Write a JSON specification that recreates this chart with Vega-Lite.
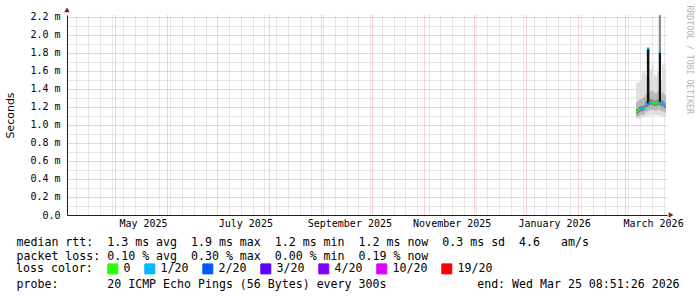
{
  "$schema": "https://vega.github.io/schema/vega-lite/v6.json",
  "width": 600,
  "height": 200,
  "autosize": {"type": "none"},
  "padding": {"left": 67, "top": 15, "right": 30, "bottom": 82},
  "background": "white",
  "config": {"view": {"stroke": null}},
  "resolve": {"axis": {"y": "independent"}},
  "datasets": {
    "smoke": [
      {"t": "2026-03-07T14:00:00Z", "t2": "2026-03-08T00:00:00Z", "lo1": 1.07, "lo2": 1.09, "lo3": 1.125, "med": 1.15, "hi3": 1.18, "hi2": 1.25, "hi1": 1.47, "loss": "0"},
      {"t": "2026-03-08T00:00:00Z", "t2": "2026-03-09T00:00:00Z", "lo1": 1.07, "lo2": 1.09, "lo3": 1.125, "med": 1.15, "hi3": 1.18, "hi2": 1.26, "hi1": 1.47, "loss": "0"},
      {"t": "2026-03-09T00:00:00Z", "t2": "2026-03-10T00:00:00Z", "lo1": 1.07, "lo2": 1.10, "lo3": 1.14, "med": 1.17, "hi3": 1.20, "hi2": 1.28, "hi1": 1.48, "loss": "0"},
      {"t": "2026-03-10T00:00:00Z", "t2": "2026-03-11T00:00:00Z", "lo1": 1.08, "lo2": 1.11, "lo3": 1.15, "med": 1.18, "hi3": 1.21, "hi2": 1.29, "hi1": 1.50, "loss": "1/20"},
      {"t": "2026-03-11T00:00:00Z", "t2": "2026-03-12T00:00:00Z", "lo1": 1.08, "lo2": 1.11, "lo3": 1.155, "med": 1.18, "hi3": 1.21, "hi2": 1.30, "hi1": 1.58, "loss": "1/20"},
      {"t": "2026-03-12T00:00:00Z", "t2": "2026-03-13T00:00:00Z", "lo1": 1.09, "lo2": 1.12, "lo3": 1.165, "med": 1.19, "hi3": 1.22, "hi2": 1.31, "hi1": 1.59, "loss": "1/20"},
      {"t": "2026-03-13T00:00:00Z", "t2": "2026-03-14T00:00:00Z", "lo1": 1.10, "lo2": 1.15, "lo3": 1.20, "med": 1.23, "hi3": 1.26, "hi2": 1.34, "hi1": 1.55, "loss": "1/20"},
      {"t": "2026-03-14T00:00:00Z", "t2": "2026-03-15T00:00:00Z", "lo1": 1.10, "lo2": 1.15, "lo3": 1.20, "med": 1.23, "hi3": 1.27, "hi2": 1.36, "hi1": 1.58, "loss": "1/20"},
      {"t": "2026-03-15T00:00:00Z", "t2": "2026-03-16T00:00:00Z", "lo1": 1.10, "lo2": 1.16, "lo3": 1.22, "med": 1.25, "hi3": 1.28, "hi2": 1.36, "hi1": 1.52, "loss": "1/20"},
      {"t": "2026-03-16T00:00:00Z", "t2": "2026-03-17T00:00:00Z", "lo1": 1.11, "lo2": 1.17, "lo3": 1.225, "med": 1.255, "hi3": 1.29, "hi2": 1.38, "hi1": 1.62, "loss": "1/20"},
      {"t": "2026-03-17T00:00:00Z", "t2": "2026-03-18T00:00:00Z", "lo1": 1.11, "lo2": 1.17, "lo3": 1.22, "med": 1.25, "hi3": 1.28, "hi2": 1.38, "hi1": 1.675, "loss": "0"},
      {"t": "2026-03-18T00:00:00Z", "t2": "2026-03-19T00:00:00Z", "lo1": 1.11, "lo2": 1.16, "lo3": 1.21, "med": 1.24, "hi3": 1.27, "hi2": 1.36, "hi1": 1.56, "loss": "0"},
      {"t": "2026-03-19T00:00:00Z", "t2": "2026-03-20T00:00:00Z", "lo1": 1.11, "lo2": 1.16, "lo3": 1.21, "med": 1.24, "hi3": 1.27, "hi2": 1.35, "hi1": 1.55, "loss": "0"},
      {"t": "2026-03-20T00:00:00Z", "t2": "2026-03-21T00:00:00Z", "lo1": 1.11, "lo2": 1.17, "lo3": 1.22, "med": 1.25, "hi3": 1.28, "hi2": 1.37, "hi1": 1.60, "loss": "0"},
      {"t": "2026-03-21T00:00:00Z", "t2": "2026-03-22T00:00:00Z", "lo1": 1.11, "lo2": 1.17, "lo3": 1.22, "med": 1.25, "hi3": 1.28, "hi2": 1.37, "hi1": 1.60, "loss": "1/20"},
      {"t": "2026-03-22T00:00:00Z", "t2": "2026-03-23T00:00:00Z", "lo1": 1.10, "lo2": 1.16, "lo3": 1.21, "med": 1.24, "hi3": 1.27, "hi2": 1.35, "hi1": 1.50, "loss": "1/20"},
      {"t": "2026-03-23T00:00:00Z", "t2": "2026-03-24T00:00:00Z", "lo1": 1.10, "lo2": 1.15, "lo3": 1.205, "med": 1.235, "hi3": 1.27, "hi2": 1.36, "hi1": 1.675, "loss": "1/20"},
      {"t": "2026-03-24T00:00:00Z", "t2": "2026-03-25T00:00:00Z", "lo1": 1.09, "lo2": 1.14, "lo3": 1.19, "med": 1.22, "hi3": 1.25, "hi2": 1.34, "hi1": 1.675, "loss": "1/20"},
      {"t": "2026-03-25T00:00:00Z", "t2": "2026-03-25T09:00:00Z", "lo1": 1.09, "lo2": 1.14, "lo3": 1.185, "med": 1.21, "hi3": 1.24, "hi2": 1.33, "hi1": 1.62, "loss": "1/20"}
    ],
    "spikes": [
      {"t": "2026-03-14T00:00:00Z", "t2": "2026-03-15T12:00:00Z", "lo": 1.23, "hi": 1.85, "part": "core"},
      {"t": "2026-03-21T02:00:00Z", "t2": "2026-03-22T10:00:00Z", "lo": 1.25, "hi": 1.81, "part": "core"},
      {"t": "2026-03-21T02:00:00Z", "t2": "2026-03-22T10:00:00Z", "lo": 1.81, "hi": 2.22, "part": "tail"}
    ],
    "caps": [
      {"t": "2026-03-14T00:00:00Z", "t2": "2026-03-15T12:00:00Z", "cap": 1.85, "loss": "1/20"},
      {"t": "2026-03-21T02:00:00Z", "t2": "2026-03-22T10:00:00Z", "cap": 1.81, "loss": "1/20"}
    ],
    "arrows": [
      {"t": "2025-04-02T09:36:00Z", "v": 2.28, "dir": "up"},
      {"t": "2026-03-28T10:00:00Z", "v": 0, "dir": "right"}
    ]
  },
  "encoding": {
    "x": {
      "field": "t",
      "type": "temporal",
      "scale": {"type": "utc", "domain": [{"year": 2025, "month": 4, "date": 2, "hours": 9, "minutes": 36, "utc": true}, {"year": 2026, "month": 3, "date": 26, "utc": true}]},
      "axis": {
        "values": [1744070400000, 1744675200000, 1745280000000, 1745884800000, 1746489600000, 1747094400000, 1747699200000, 1748304000000, 1748908800000, 1749513600000, 1750118400000, 1750723200000, 1751328000000, 1751932800000, 1752537600000, 1753142400000, 1753747200000, 1754352000000, 1754956800000, 1755561600000, 1756166400000, 1756771200000, 1757376000000, 1757980800000, 1758585600000, 1759190400000, 1759795200000, 1760400000000, 1761004800000, 1761609600000, 1762214400000, 1762819200000, 1763424000000, 1764028800000, 1764633600000, 1765238400000, 1765843200000, 1766448000000, 1767052800000, 1767657600000, 1768262400000, 1768867200000, 1769472000000, 1770076800000, 1770681600000, 1771286400000, 1771891200000, 1772496000000, 1773100800000, 1773705600000, 1774310400000, 1746057600000, 1748736000000, 1754006400000, 1756684800000, 1759276800000, 1761955200000, 1764547200000, 1767225600000, 1769904000000, 1772323200000],
        "gridColor": {"condition": {"test": "utcdate(datum.value) == 1", "value": "#f79f9f"}, "value": "#cfcfcf"},
        "gridDash": [1, 1],
        "gridWidth": 1,
        "ticks": false,
        "domainColor": "#1f1f1f",
        "labelExpr": "utcdate(datum.value) == 1 && utcmonth(datum.value) % 2 == 0 ? utcFormat(datum.value, '%B %Y') : ''",
        "labelOffset": 28,
        "labelPadding": 3,
        "labelFont": "DejaVu Sans Mono",
        "labelFontSize": 10,
        "labelColor": "black",
        "labelOverlap": false,
        "labelFlush": false,
        "labelBound": false,
        "title": [
          "median\u00a0rtt:\u00a0\u00a01.3\u00a0ms\u00a0avg\u00a0\u00a01.9\u00a0ms\u00a0max\u00a0\u00a01.2\u00a0ms\u00a0min\u00a0\u00a01.2\u00a0ms\u00a0now\u00a0\u00a00.3\u00a0ms\u00a0sd\u00a0\u00a04.6\u00a0\u00a0\u00a0am/s",
          "packet\u00a0loss:\u00a00.10\u00a0%\u00a0avg\u00a0\u00a00.30\u00a0%\u00a0max\u00a0\u00a00.00\u00a0%\u00a0min\u00a0\u00a00.19\u00a0%\u00a0now",
          "\u2800",
          "probe:\u00a0\u00a0\u00a0\u00a0\u00a0\u00a0\u00a020\u00a0ICMP\u00a0Echo\u00a0Pings\u00a0(56\u00a0Bytes)\u00a0every\u00a0300s\u00a0\u00a0\u00a0\u00a0\u00a0\u00a0\u00a0\u00a0\u00a0\u00a0\u00a0\u00a0\u00a0end:\u00a0Wed\u00a0Mar\u00a025\u00a008:51:26\u00a02026"
        ],
        "titleAnchor": "start",
        "titleAlign": "left",
        "titleX": -51,
        "titleY": 30.5,
        "titleBaseline": "alphabetic",
        "titleLineHeight": 14,
        "titleFont": "DejaVu Sans Mono",
        "titleFontSize": 11.6,
        "titleFontWeight": "normal",
        "titleColor": "black"
      }
    }
  },
  "layer": [
    {
      "data": {"name": "smoke"},
      "mark": {"type": "rect", "color": "#dcdcdc"},
      "encoding": {
        "x2": {"field": "t2"},
        "y": {
          "field": "lo1",
          "type": "quantitative",
          "scale": {"domain": [0, 2.22222], "nice": false, "zero": false},
          "axis": {
            "title": "Seconds",
            "values": [0, 0.2, 0.4, 0.6, 0.8, 1.0, 1.2, 1.4, 1.6, 1.8, 2.0, 2.2],
            "labelExpr": "datum.value == 0 ? '0.0\u00a0\u00a0' : format(datum.value, '.1f') + '\u00a0m'",
            "grid": true,
            "gridColor": "#f79f9f",
            "gridDash": [1, 1],
            "gridWidth": 1,
            "ticks": false,
            "domainColor": "#1f1f1f",
            "labelFont": "DejaVu Sans Mono",
            "labelFontSize": 10,
            "labelColor": "black",
            "labelPadding": 7,
            "labelOverlap": false,
            "labelFlush": false,
            "titleFont": "DejaVu Sans",
            "titleFontSize": 11,
            "titleFontWeight": "normal",
            "titleColor": "black",
            "titleX": -57,
            "titleY": 100,
            "titleAngle": -90,
            "titleAlign": "center",
            "titleBaseline": "middle"
          }
        },
        "y2": {"field": "hi1"}
      }
    },
    {
      "data": {"name": "smoke"},
      "mark": {"type": "rect", "color": "#b4b4b4"},
      "encoding": {
        "x2": {"field": "t2"},
        "y": {
          "field": "lo2",
          "type": "quantitative",
          "scale": {"domain": [0, 2.22222], "nice": false, "zero": false},
          "axis": {
            "orient": "left",
            "title": null,
            "values": [0.1, 0.3, 0.5, 0.7, 0.9, 1.1, 1.3, 1.5, 1.7, 1.9, 2.1],
            "labels": false,
            "ticks": false,
            "domain": false,
            "grid": true,
            "gridColor": "#cfcfcf",
            "gridDash": [1, 1],
            "gridWidth": 1
          }
        },
        "y2": {"field": "hi2"}
      }
    },
    {
      "data": {"name": "smoke"},
      "mark": {"type": "rect", "color": "#7c7c7c"},
      "encoding": {
        "x2": {"field": "t2"},
        "y": {"field": "lo3", "type": "quantitative", "scale": {"domain": [0, 2.22222], "nice": false, "zero": false}, "axis": null},
        "y2": {"field": "hi3"}
      }
    },
    {
      "data": {"name": "spikes"},
      "mark": {"type": "rect"},
      "encoding": {
        "x2": {"field": "t2"},
        "y": {"field": "lo", "type": "quantitative", "scale": {"domain": [0, 2.22222], "nice": false, "zero": false}, "axis": null},
        "y2": {"field": "hi"},
        "fill": {"field": "part", "type": "nominal", "scale": {"domain": ["core", "tail"], "range": ["#111111", "#8a8a8a"]}, "legend": null}
      }
    },
    {
      "data": {"name": "smoke"},
      "mark": {"type": "rule", "strokeWidth": 2},
      "encoding": {
        "x2": {"field": "t2"},
        "y": {"field": "med", "type": "quantitative", "scale": {"domain": [0, 2.22222], "nice": false, "zero": false}, "axis": null},
        "color": {
          "field": "loss",
          "type": "nominal",
          "scale": {"domain": ["0", "1/20", "2/20", "3/20", "4/20", "10/20", "19/20"], "range": ["#26ff00", "#00b8ff", "#0059ff", "#5e00ff", "#7e00ff", "#dd00ff", "#ff0000"]},
          "legend": {
            "title": "loss color:",
            "orient": "none",
            "legendX": -51,
            "legendY": 248,
            "direction": "horizontal",
            "padding": 0,
            "titleOrient": "left",
            "titlePadding": 14,
            "titleFont": "DejaVu Sans Mono",
            "titleFontSize": 11.6,
            "titleFontWeight": "normal",
            "titleColor": "black",
            "labelFont": "DejaVu Sans Mono",
            "labelFontSize": 11.6,
            "labelColor": "black",
            "labelOffset": 5,
            "columnPadding": 11,
            "symbolType": "square",
            "symbolSize": 100,
            "symbolStrokeWidth": 1,
            "encode": {"symbols": {"update": {"fill": {"scale": "color", "field": "value"}, "stroke": {"value": "black"}, "strokeWidth": {"value": 1}, "opacity": {"value": 1}}}}
          }
        }
      }
    },
    {
      "data": {"name": "caps"},
      "mark": {"type": "rule", "strokeWidth": 2},
      "encoding": {
        "x2": {"field": "t2"},
        "y": {"field": "cap", "type": "quantitative", "scale": {"domain": [0, 2.22222], "nice": false, "zero": false}, "axis": null},
        "color": {"field": "loss", "type": "nominal"}
      }
    },
    {
      "data": {"name": "arrows"},
      "mark": {"type": "point", "filled": true, "size": 30, "opacity": 1},
      "encoding": {
        "y": {
          "field": "v",
          "type": "quantitative",
          "scale": {"domain": [0, 2.22222], "nice": false, "zero": false},
          "axis": {
            "orient": "right",
            "title": "RRDTOOL / TOBI OETIKER",
            "labels": false,
            "ticks": false,
            "domain": false,
            "grid": false,
            "titleX": 21,
            "titleY": -10,
            "titleAngle": 90,
            "titleAlign": "left",
            "titleBaseline": "middle",
            "titleFont": "DejaVu Sans Mono",
            "titleFontSize": 8.2,
            "titleFontWeight": "normal",
            "titleColor": "#b4b4b4"
          }
        },
        "shape": {"field": "dir", "type": "nominal", "scale": {"domain": ["up", "right"], "range": ["triangle-up", "triangle-right"]}, "legend": null},
        "fill": {"value": "#801f1f"}
      }
    }
  ]
}
